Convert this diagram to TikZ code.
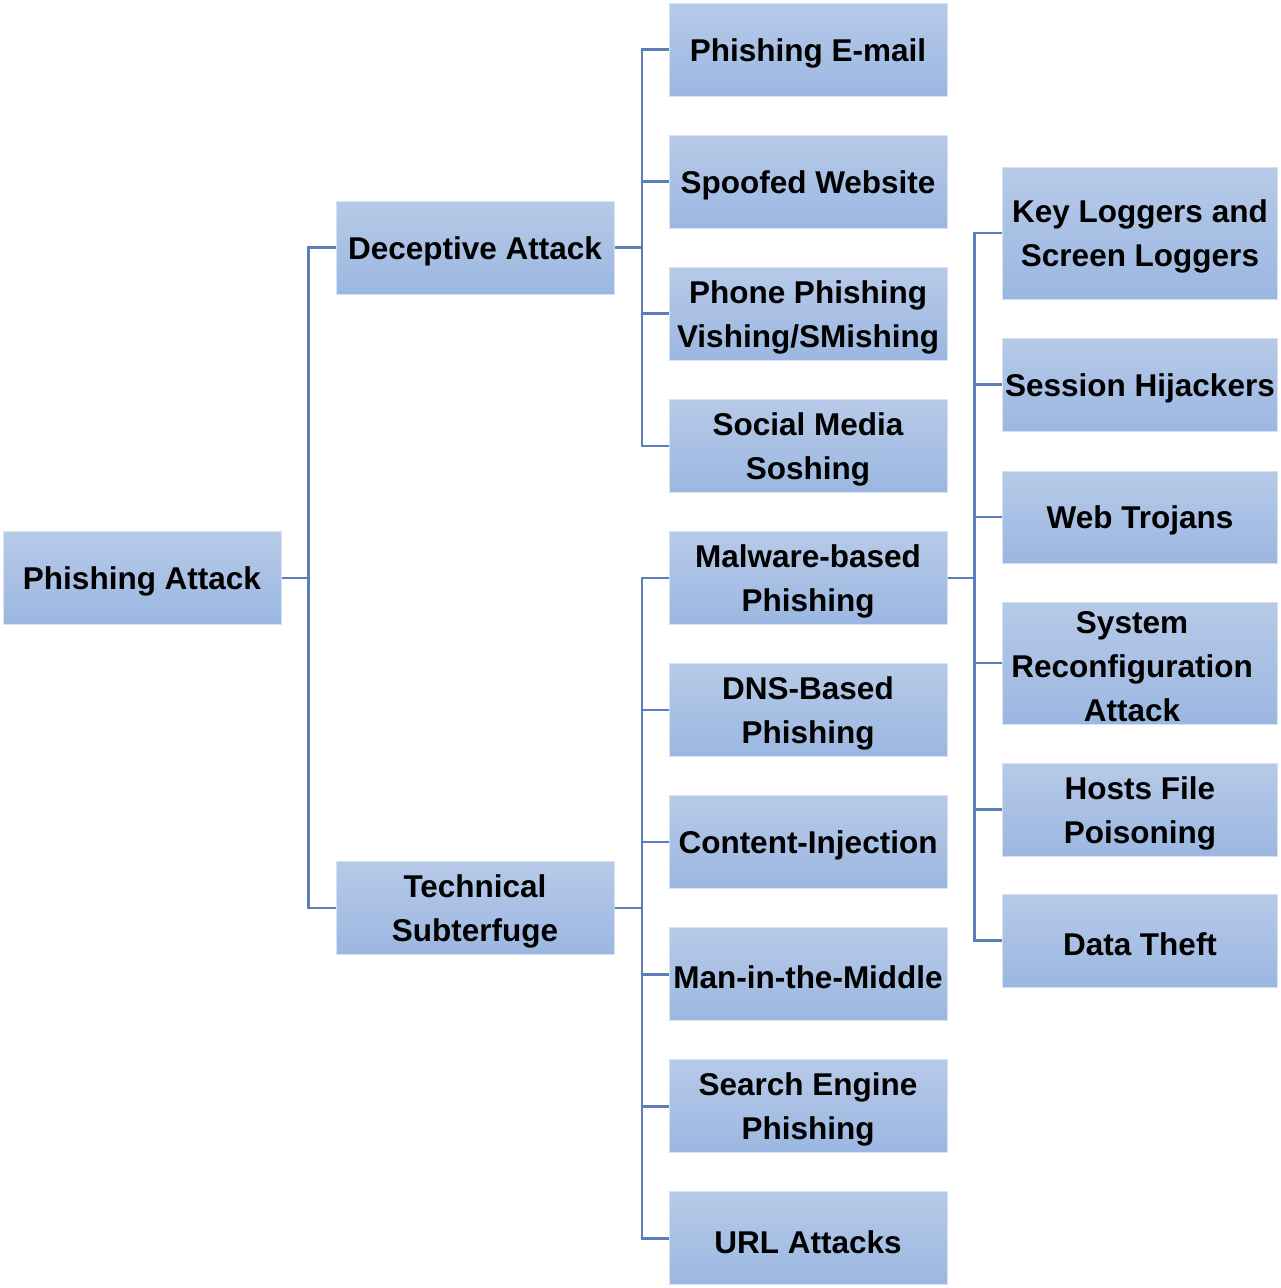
\documentclass[tikz,border=0pt]{standalone}
\usepackage{fontspec}
\setmainfont{Liberation Sans}
\definecolor{boxtop}{RGB}{183,202,232}
\definecolor{boxbot}{RGB}{155,183,225}
\definecolor{boxedge}{RGB}{214,225,241}
\definecolor{linecol}{RGB}{92,125,181}
\tikzset{
  box/.style={rectangle, draw=boxedge, line width=1pt, top color=boxtop, bottom color=boxbot,
    minimum width=278pt, minimum height=93pt, inner sep=0pt,
    label={[lbl]center:#1}},
  lbl/.style={align=center, inner sep=0pt, yshift=-3.5pt,
    font=\fontsize{31.5}{44}\selectfont\bfseries, text=black},
  conn/.style={draw=linecol, line width=2.6pt}
}
\begin{document}
\begin{tikzpicture}[x=1pt,y=-1pt]
\useasboundingbox (0,0) rectangle (1280,1288);
% level 1
\node[box={Phishing Attack}] (pa) at (142,578) {};
% level 2
\node[box={Deceptive Attack}] (da) at (475,247.5) {};
\node[box={Technical\\Subterfuge}] (ts) at (475,908) {};
% level 3
\node[box={Phishing E-mail}] (pe) at (808,49.5) {};
\node[box={Spoofed Website}] (sw) at (808,181.6) {};
\node[box={Phone Phishing\\Vishing/SMishing}] (pp) at (808,313.7) {};
\node[box={Social Media\\Soshing}] (sm) at (808,445.8) {};
\node[box={Malware-based\\Phishing}] (mw) at (808,577.9) {};
\node[box={DNS-Based\\Phishing}] (dns) at (808,710) {};
\node[box={Content-Injection}] (ci) at (808,842.1) {};
\node[box={Man-in-the-Middle}] (mm) at (808,974.2) {};
\node[box={Search Engine\\Phishing}] (se) at (808,1106.3) {};
\node[box={URL Attacks}] (url) at (808,1238.4) {};
% level 4
\node[box={Key Loggers and\\Screen Loggers}, minimum width=275pt, minimum height=132pt] (kl) at (1140,233) {};
\node[box={Session Hijackers}, minimum width=275pt] (sh) at (1140,384.5) {};
\node[box={Web Trojans}, minimum width=275pt, minimum height=92pt] (wt) at (1140,517) {};
\node[rectangle, draw=boxedge, line width=1pt, top color=boxtop, bottom color=boxbot,
  minimum width=275pt, minimum height=122pt, inner sep=0pt,
  label={[lbl, xshift=-8pt]center:System\\Reconfiguration\\Attack}] (sr) at (1140,663) {};
\node[box={Hosts File\\Poisoning}, minimum width=275pt] (hf) at (1140,809.5) {};
\node[box={Data Theft}, minimum width=275pt] (dt) at (1140,940.5) {};
% connectors
\foreach \c in {da,ts} \draw[conn] (pa.east) -- ++(27,0) |- (\c.west);
\foreach \c in {pe,sw,pp,sm} \draw[conn] (da.east) -- ++(27.5,0) |- (\c.west);
\foreach \c in {mw,dns,ci,mm,se,url} \draw[conn] (ts.east) -- ++(27.5,0) |- (\c.west);
\foreach \c in {kl,sh,wt,sr,hf,dt} \draw[conn] (mw.east) -- ++(27,0) |- (\c.west);
\end{tikzpicture}
\end{document}
